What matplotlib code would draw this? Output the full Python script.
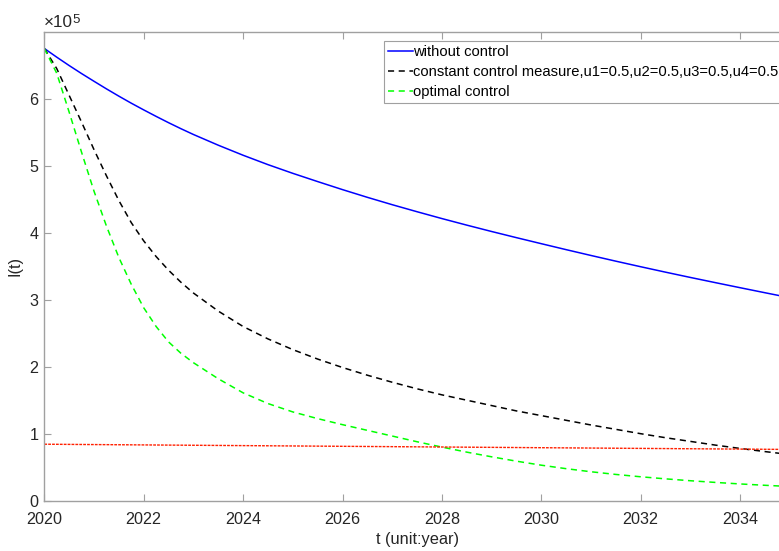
import numpy as np
import matplotlib
matplotlib.use('Agg')
import matplotlib.pyplot as plt

plt.rcParams['font.family'] = ['Liberation Sans', 'DejaVu Sans']

# 时间 (年)
t = [2020, 2020.25, 2020.5, 2020.75, 2021, 2021.25, 2021.5, 2021.75,
     2022, 2022.25, 2022.5, 2022.75, 2023, 2023.5, 2024, 2024.5, 2025,
     2025.5, 2026, 2026.5, 2027, 2027.5, 2028, 2028.5, 2029, 2029.5,
     2030, 2030.5, 2031, 2031.5, 2032, 2032.5, 2033, 2033.5, 2034,
     2034.5, 2035]
# I(t), 单位 1e5
I_none = [6.75, 6.62, 6.495, 6.375, 6.26, 6.147, 6.038, 5.933,
          5.833, 5.736, 5.642, 5.552, 5.466, 5.306, 5.156, 5.016, 4.886,
          4.763, 4.643, 4.528, 4.418, 4.313, 4.211, 4.113, 4.018, 3.926,
          3.836, 3.747, 3.66, 3.575, 3.492, 3.411, 3.332, 3.255, 3.179,
          3.104, 3.03]
I_const = [6.75, 6.45, 6.05, 5.65, 5.24, 4.85, 4.48, 4.15,
           3.878, 3.644, 3.44, 3.26, 3.10, 2.83, 2.60, 2.415, 2.255,
           2.114, 1.988, 1.873, 1.768, 1.67, 1.58, 1.50, 1.42, 1.34,
           1.27, 1.20, 1.13, 1.065, 1.00, 0.94, 0.885, 0.83, 0.78,
           0.733, 0.689]
I_opt = [6.75, 6.38, 5.80, 5.20, 4.62, 4.10, 3.63, 3.23,
         2.88, 2.60, 2.37, 2.20, 2.06, 1.82, 1.61, 1.45, 1.325,
         1.225, 1.135, 1.05, 0.965, 0.88, 0.80, 0.725, 0.655, 0.59,
         0.53, 0.478, 0.432, 0.392, 0.357, 0.326, 0.298, 0.273, 0.25,
         0.23, 0.212]
# 阈值线
t_ref = [2020, 2035]
I_ref = [0.843, 0.765]

xticks = [2020, 2022, 2024, 2026, 2028, 2030, 2032, 2034]
yticks = [0, 1, 2, 3, 4, 5, 6]
labels = ['without control',
          'constant control measure,u1=0.5,u2=0.5,u3=0.5,u4=0.5',
          'optimal control']

scale = 1e5
fig = plt.figure(figsize=(7.79, 5.51), dpi=100)
W, H = 779, 551
ax = fig.add_axes([44.3 / W, (H - 500.7) / H, 745.5 / W, 469 / H])

ax.plot(t, np.array(I_none) * scale, color='#0000ff', lw=1.1, label=labels[0])
ax.plot(t, np.array(I_const) * scale, color='black', lw=1.1,
        dashes=(4, 3), label=labels[1])
ax.plot(t, np.array(I_opt) * scale, color='#00ff00', lw=1.1,
        dashes=(4, 3), label=labels[2])
ax.plot(t_ref, np.array(I_ref) * scale, color='#ff2000', lw=1.0,
        dashes=(2, 0.8))

ax.set_xlim(2020, 2035)
ax.set_ylim(0, 7.0 * scale)
ax.set_xticks(xticks)
ax.set_xticklabels([str(x) for x in xticks])
ax.set_yticks([y * scale for y in yticks])
ax.set_yticklabels([str(y) for y in yticks])

for s in ax.spines.values():
    s.set_color('#a0a0a0')
    s.set_linewidth(1.0)
ax.tick_params(direction='in', length=5, width=0.8, color='#a0a0a0',
               labelcolor='#262626', labelsize=11.6, top=True)
ax.tick_params(axis='x', pad=8)
ax.tick_params(axis='y', pad=4)

ax.set_xlabel('t (unit:year)', fontsize=11.8, color='#262626', labelpad=4)
ax.set_ylabel('I(t)', fontsize=11.8, color='#262626', labelpad=5)

# 纵轴量级
fig.text(44 / W, (H - 26.7) / H, '×10', fontsize=12.3, color='#262626',
         va='baseline', ha='left')
fig.text(72 / W, (H - 22.7) / H, '5', fontsize=9.5, color='#262626',
         va='baseline', ha='left')

leg = ax.legend(loc='upper left', bbox_to_anchor=(384 / W, (H - 41) / H),
                bbox_transform=fig.transFigure, fontsize=10.6,
                handlelength=1.7, handletextpad=0.0, borderpad=0.25,
                borderaxespad=0, labelspacing=0.42, fancybox=False,
                framealpha=1, edgecolor='#a0a0a0')
leg.get_frame().set_linewidth(0.8)

fig.savefig('out.png', dpi=100)
